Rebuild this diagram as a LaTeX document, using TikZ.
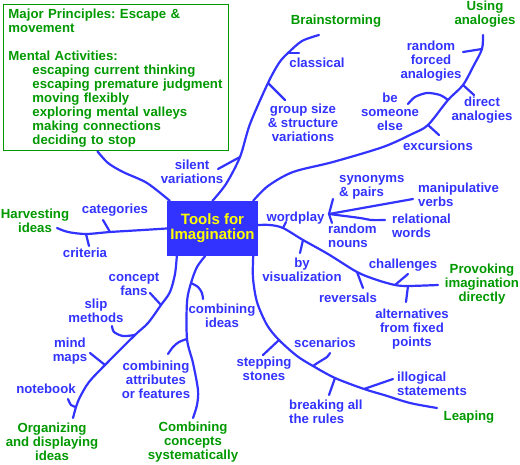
\documentclass[tikz,border=0pt]{standalone}
\usepackage{fontspec}
\setmainfont{Liberation Sans}
\usetikzlibrary{calc}
\definecolor{Ink}{HTML}{3333FF}
\definecolor{Leaf}{HTML}{009900}
\definecolor{Lemon}{HTML}{FFFF00}
\frenchspacing

\begin{document}
\begin{tikzpicture}[x=1pt,y=-1pt,
    lbl/.style={inner sep=0pt,align=center,text=Ink,
      font=\fontsize{13.2}{14}\selectfont\bfseries},
    topic/.style={lbl,text=Leaf},
    hub/.style={fill=Ink,minimum width=91pt,minimum height=55pt,inner sep=0pt,
      align=center,text=Lemon,font=\fontsize{15}{15}\selectfont\bfseries},
    infobox/.style={draw=Leaf,line width=1pt,anchor=north west,minimum width=225pt,
      minimum height=146pt,inner xsep=5pt,inner ysep=4pt,text width=215pt,
      align=left,text=Leaf,font=\fontsize{13.2}{14}\selectfont\bfseries},
    branch/.style={draw=Ink,line width=2.2pt,line cap=round,line join=round}
  ]
    \fill[white] (0,0) rectangle (520,465);
    \useasboundingbox (0,0) rectangle (520,465);

    \node[infobox] (principles) at (3,4) {Major Principles: Escape \&\\movement\\[14pt]
      Mental Activities:\\
      \hspace*{24pt}escaping current thinking\\
      \hspace*{24pt}escaping premature judgment\\
      \hspace*{24pt}moving flexibly\\
      \hspace*{24pt}exploring mental valleys\\
      \hspace*{24pt}making connections\\
      \hspace*{24pt}deciding to stop};
    \node[hub] (tools) at (212.5,228.5) {Tools for\\Imagination};

    \node[topic] (brainstorming) at (336,21) {Brainstorming};
    \node[topic] (analogies) at (485,14) {Using\\analogies};
    \node[topic] (harvesting) at (35,221) {Harvesting\\ideas};
    \node[topic] (organizing) at (52,442) {Organizing\\and displaying\\ideas};
    \node[topic] (combining) at (193,442) {Combining\\concepts\\systematically};
    \node[topic] (leaping) at (469,417) {Leaping};
    \node[topic] (provoking) at (482,284) {Provoking\\imagination\\directly};

    \node[lbl] (classical) at (317,63) {classical};
    \node[lbl] (groupsize) at (303,123) {group size\\\& structure\\variations};
    \node[lbl] (silent) at (192,172) {silent\\variations};
    \node[lbl] (forced) at (431,61) {random\\forced\\analogies};
    \node[lbl] (direct) at (482,110) {direct\\analogies};
    \node[lbl] (someone) at (390,112) {be\\someone\\else};
    \node[lbl] (excursions) at (438,146) {excursions};
    \node[lbl] (categories) at (115,210) {categories};
    \node[lbl] (criteria) at (85,253) {criteria};
    \node[lbl] (fans) at (134,284) {concept\\fans};
    \node[lbl] (slip) at (96,311) {slip\\methods};
    \node[lbl] (mindmaps) at (70,351) {mind\\maps};
    \node[lbl] (notebook) at (46,389) {notebook};
    \node[lbl] (combideas) at (222,316) {combining\\ideas};
    \node[lbl] (attributes) at (156,380) {combining\\attributes\\or features};
    \node[lbl] (stepping) at (264,369) {stepping\\stones};
    \node[lbl] (scenarios) at (325,343) {scenarios};
    \node[lbl,align=left,anchor=west] (breaking) at (289,412) {breaking all\\the rules};
    \node[lbl,align=left,anchor=west] (illogical) at (397,384) {illogical\\statements};
    \node[lbl] (wordplay) at (295.5,218) {wordplay};
    \node[lbl,align=left,anchor=west] (synonyms) at (339,187) {synonyms\\\& pairs};
    \node[lbl,align=left,anchor=west] (verbs) at (418,195) {manipulative\\verbs};
    \node[lbl,align=left,anchor=west] (relational) at (392,226) {relational\\words};
    \node[lbl,align=left,anchor=west] (nouns) at (328,236) {random\\nouns};
    \node[lbl] (visualization) at (302,270) {by\\visualization};
    \node[lbl] (challenges) at (403,265) {challenges};
    \node[lbl] (reversals) at (348,298) {reversals};
    \node[lbl] (alternatives) at (412,329) {alternatives\\from fixed\\points};

    \coordinate (pin) at ($(principles.south west)!0.418!(principles.south east)$);
    \coordinate (tools-nw) at ($(tools.north west)+(3,0)$);
    \coordinate (an-root) at ($(tools.north east)+(-5,0)$);
    \coordinate (og-root) at ($(tools.south west)+(10,0)$);
    \coordinate (cb-root) at ($(tools.south)+(-7.5,0)$);
    \coordinate (lp-root) at ($(tools.south east)+(-5,0)$);
    \coordinate (pv-root) at ($(tools.east)+(0,-3.5)$);

    \coordinate (bs-sil) at (240,157);
    \coordinate (bs-grp) at (268,83);
    \coordinate (bs-cls) at (288,53);
    \coordinate (bs-end) at (319,35);
    \coordinate (cls-tip) at (299,53);
    \coordinate (grp-tip) at (285,100);
    \coordinate (sil-tip) at (218,169);

    \coordinate (an-exc) at (428,125);
    \coordinate (an-one) at (448,100);
    \coordinate (an-dir) at (463,85);
    \coordinate (an-rnd) at (482,49);
    \coordinate (an-end) at (483,35);
    \coordinate (rnd-tip) at (463,52);
    \coordinate (dir-tip) at (474,95);
    \coordinate (exc-tip) at (439,135);
    \coordinate (one-tip) at (408,104);

    \coordinate (hv-cat) at (110,232);
    \coordinate (hv-crt) at (86,234);
    \coordinate (hv-end) at (57,228);
    \coordinate (cat-tip) at (103,220);
    \coordinate (crt-tip) at (89,246);

    \coordinate (og-fan) at (161,305);
    \coordinate (og-slp) at (135,335);
    \coordinate (og-map) at (105,365);
    \coordinate (og-nb) at (76,407);
    \coordinate (og-end) at (73,418);
    \coordinate (fan-tip) at (150,293);
    \coordinate (slp-tip) at (112,326);
    \coordinate (map-tip) at (90,353);
    \coordinate (nb-tip) at (68,399);

    \coordinate (cb-ide) at (191,283);
    \coordinate (cb-att) at (187,339);
    \coordinate (cb-end) at (193,418);
    \coordinate (ide-tip) at (203,299);
    \coordinate (att-tip) at (168,354);

    \coordinate (lp-stp) at (279,340);
    \coordinate (lp-scn) at (313,366);
    \coordinate (lp-brk) at (335,378);
    \coordinate (lp-ill) at (364,389);
    \coordinate (lp-end) at (437,408);
    \coordinate (stp-tip) at (263,355);
    \coordinate (scn-tip) at (330,353);
    \coordinate (brk-tip) at (329,395);
    \coordinate (ill-tip) at (393,379);

    \coordinate (pv-wrd) at (283,228);
    \coordinate (pv-vis) at (303,240);
    \coordinate (pv-rev) at (357,272);
    \coordinate (pv-chl) at (395,285);
    \coordinate (pv-alt) at (408,286);
    \coordinate (pv-end) at (438,285);
    \coordinate (wrd-tip) at (286,222);
    \coordinate (vis-tip) at (300,253);
    \coordinate (rev-tip) at (363,288);
    \coordinate (chl-tip) at (408,274);
    \coordinate (alt-tip) at (406,302);

    \coordinate (wp) at (329,214);
    \coordinate (syn-top) at (333,199);
    \coordinate (syn-bot) at (332,223);
    \coordinate (man-tip) at (413,199);
    \coordinate (rel-tip) at (385,220);

    \draw[branch] plot[smooth] coordinates {(pin) (108,163) (123,172) (147,183) (tools-nw)};
    \draw[branch] plot[smooth] coordinates {(tools.north) (226,184) (bs-sil) (250,124) (bs-grp)
      (279,63) (bs-cls) (302,41) (bs-end)};
    \draw[branch] plot[smooth] coordinates {(an-root) (268,186) (293,172) (333,162) (383,147)
      (412,134) (an-exc) (an-one) (an-dir) (474,65) (an-rnd) (an-end)};
    \draw[branch] plot[smooth] coordinates {(tools.west) (143,230) (hv-cat) (hv-crt) (68,232) (hv-end)};
    \draw[branch] plot[smooth] coordinates {(og-root) (175,274) (170,292) (og-fan) (148,323)
      (og-slp) (og-map) (89,382) (80,397) (og-nb) (og-end)};
    \draw[branch] plot[smooth] coordinates {(cb-root) (197,267) (cb-ide) (187,302) (cb-att)
      (193,363) (198,390) (197,405) (cb-end)};
    \draw[branch] plot[smooth] coordinates {(lp-root) (253,278) (257,302) (267,325) (lp-stp)
      (297,356) (lp-scn) (lp-brk) (lp-ill) (384,395) (410,403) (lp-end)};
    \draw[branch] plot[smooth] coordinates {(pv-root) (270,225) (pv-wrd) (pv-vis) (328,254)
      (pv-rev) (377,280) (pv-chl) (pv-alt) (pv-end)};

    \foreach \a/\b in {bs-cls/cls-tip,bs-grp/grp-tip,bs-sil/sil-tip,an-rnd/rnd-tip,
        an-dir/dir-tip,an-exc/exc-tip,hv-cat/cat-tip,hv-crt/crt-tip,og-fan/fan-tip,
        og-map/map-tip,lp-stp/stp-tip,lp-brk/brk-tip,lp-ill/ill-tip,pv-wrd/wrd-tip,
        pv-vis/vis-tip,pv-rev/rev-tip,pv-chl/chl-tip,pv-alt/alt-tip,wp/man-tip}
      \draw[branch] (\a)--(\b);
    \draw[branch] (syn-top)--(wp)--(syn-bot);
    \draw[branch] plot[smooth] coordinates {(an-one) (440,95) (427,93) (415,97) (one-tip)};
    \draw[branch] plot[smooth] coordinates {(og-slp) (123,336) (114,332) (slp-tip)};
    \draw[branch] plot[smooth] coordinates {(og-nb) (71,405) (nb-tip)};
    \draw[branch] plot[smooth] coordinates {(cb-ide) (198,287) (202,293) (ide-tip)};
    \draw[branch] plot[smooth] coordinates {(cb-att) (179,342) (173,347) (att-tip)};
    \draw[branch] plot[smooth] coordinates {(lp-scn) (319,362) (327,357) (scn-tip)};
    \draw[branch] plot[smooth] coordinates {(wp) (360,218) (371,220) (rel-tip)};
  \end{tikzpicture}
\end{document}
